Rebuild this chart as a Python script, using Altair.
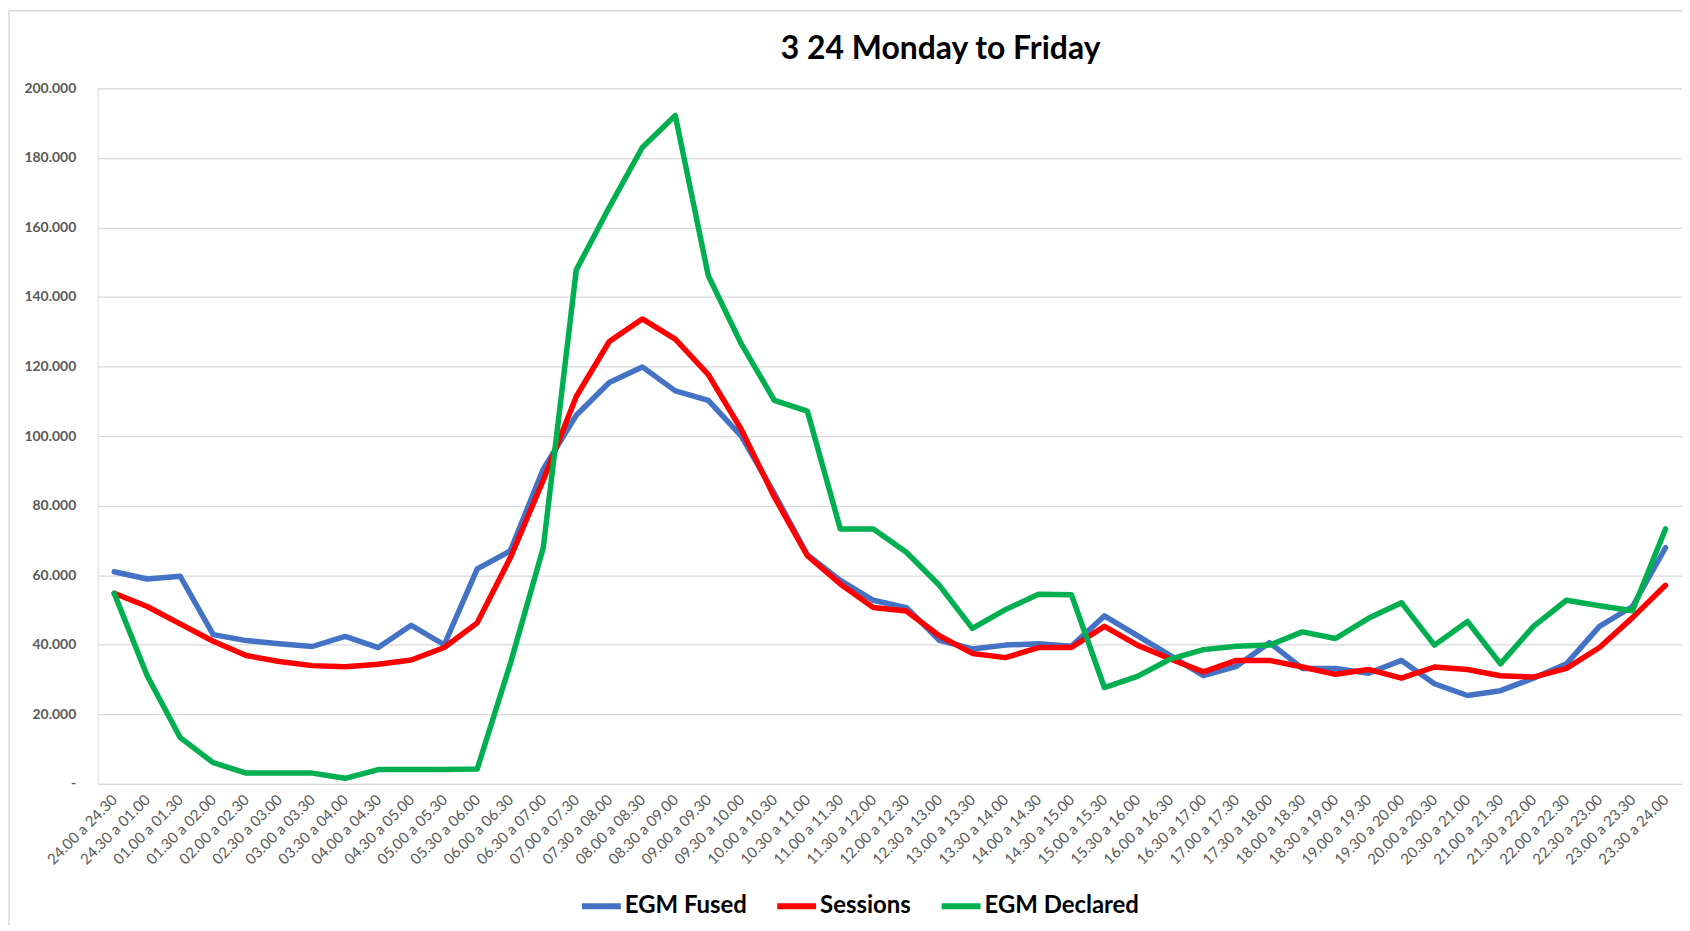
import altair as alt
import pandas as pd

categories = [
    "24.00 a 24.30", "24.30 a 01.00", "01.00 a 01.30", "01.30 a 02.00",
    "02.00 a 02.30", "02.30 a 03.00", "03.00 a 03.30", "03.30 a 04.00",
    "04.00 a 04.30", "04.30 a 05.00", "05.00 a 05.30", "05.30 a 06.00",
    "06.00 a 06.30", "06.30 a 07.00", "07.00 a 07.30", "07.30 a 08.00",
    "08.00 a 08.30", "08.30 a 09.00", "09.00 a 09.30", "09.30 a 10.00",
    "10.00 a 10.30", "10.30 a 11.00", "11.00 a 11.30", "11.30 a 12.00",
    "12.00 a 12.30", "12.30 a 13.00", "13.00 a 13.30", "13.30 a 14.00",
    "14.00 a 14.30", "14.30 a 15.00", "15.00 a 15.30", "15.30 a 16.00",
    "16.00 a 16.30", "16.30 a 17.00", "17.00 a 17.30", "17.30 a 18.00",
    "18.00 a 18.30", "18.30 a 19.00", "19.00 a 19.30", "19.30 a 20.00",
    "20.00 a 20.30", "20.30 a 21.00", "21.00 a 21.30", "21.30 a 22.00",
    "22.00 a 22.30", "22.30 a 23.00", "23.00 a 23.30", "23.30 a 24.00",
]

egm_fused = [
    61000, 58900, 59700, 42900, 41200, 40300, 39500, 42400, 39200, 45600,
    40000, 61800, 67000, 90500, 106000, 115400, 119900, 113000, 110300, 100000,
    83500, 65900, 58500, 52800, 50700, 41300, 38800, 39900, 40300, 39600,
    48300, 42600, 36900, 31100, 33800, 40600, 33200, 33200, 31800, 35500,
    28800, 25400, 26800, 30400, 34500, 45300, 51000, 67900,
]

sessions = [
    54800, 51000, 46000, 41000, 36900, 35200, 34000, 33700, 34400, 35600,
    39200, 46300, 65000, 87300, 111400, 127200, 133700, 127900, 117700, 101900,
    82500, 65600, 57500, 50700, 49700, 42600, 37500, 36300, 39200, 39200,
    45300, 39900, 35900, 32200, 35500, 35500, 33600, 31500, 32900, 30400,
    33600, 32900, 31100, 30700, 33200, 39200, 47800, 57100,
]

egm_declared = [
    54800, 31100, 13300, 6100, 3100, 3100, 3100, 1600, 4100, 4100,
    4100, 4300, 34500, 67900, 147800, 165800, 183000, 192200, 146100, 126500,
    110300, 107200, 73300, 73300, 66600, 57100, 44700, 50100, 54500, 54400,
    27700, 30900, 35900, 38600, 39600, 39900, 43700, 41800, 47600, 52100,
    39900, 46700, 34500, 45300, 52800, 51200, 49800, 73300,
]

series_names = ["EGM Fused", "Sessions", "EGM Declared"]
series_colors = ["#4472C4", "#FF0000", "#00B050"]
y_ticks = [0, 20000, 40000, 60000, 80000, 100000, 120000, 140000, 160000, 180000, 200000]

rows = []
for name, vals in zip(series_names, [egm_fused, sessions, egm_declared]):
    for c, v in zip(categories, vals):
        rows.append({"period": c, "value": v, "series": name, "order": series_names.index(name)})
df = pd.DataFrame(rows)

W, H = 1590, 698

lines = alt.Chart(df).mark_line(strokeWidth=5.5, strokeCap="round", strokeJoin="round").encode(
    x=alt.X("period:N", sort=categories, title=None,
            axis=alt.Axis(labelAngle=-45, labelAlign="right", labelBaseline="middle",
                          labelPadding=13, ticks=False, domain=False, grid=False,
                          labelFont="Lato", labelFontSize=15, labelColor="#595959",
                          labelOverlap=False)),
    y=alt.Y("value:Q", title=None,
            scale=alt.Scale(domain=[0, 200000], nice=False),
            axis=alt.Axis(values=y_ticks, ticks=False, domain=False, grid=True,
                          gridColor="#d9d9d9", gridWidth=1.3,
                          labelFont="Lato", labelFontSize=14, labelFontWeight="bold",
                          labelColor="#595959", labelPadding=22,
                          labelExpr="datum.value == 0 ? '-' : replace(format(datum.value, ',.0f'), ',', '.')")),
    color=alt.Color("series:N",
                    scale=alt.Scale(domain=series_names, range=series_colors),
                    legend=alt.Legend(title=None, orient="none", direction="horizontal",
                                      legendX=483, legendY=798,
                                      symbolType="stroke", symbolSize=1521, symbolStrokeWidth=6,
                                      labelFont="Lato", labelFontSize=24, labelFontWeight="bold",
                                      labelColor="#000000", labelOffset=1, columnPadding=18,
                                      labelLimit=400)),
    detail="series:N",
    order="order:Q",
)

border = alt.Chart(pd.DataFrame({"k": [0]})).mark_rect(
    fill="transparent", stroke="#d9d9d9", strokeWidth=1.5
).encode(
    x=alt.value(-89), x2=alt.value(W + 120),
    y=alt.value(-78), y2=alt.value(H + 200),
)

chart = alt.layer(border, lines).properties(
    width=W, height=H,
    title=alt.Title("3 24 Monday to Friday", font="Lato", fontSize=32, fontWeight="bold",
                    color="#000000", anchor="middle", frame="group", dx=51, dy=56, offset=0),
    autosize=alt.AutoSizeParams(type="none"),
    padding={"left": 90, "top": 79, "right": 0, "bottom": 140},
).configure_view(stroke=None).configure(background="white")

chart.save("out.html", embed_options={"renderer": "svg", "actions": False})
